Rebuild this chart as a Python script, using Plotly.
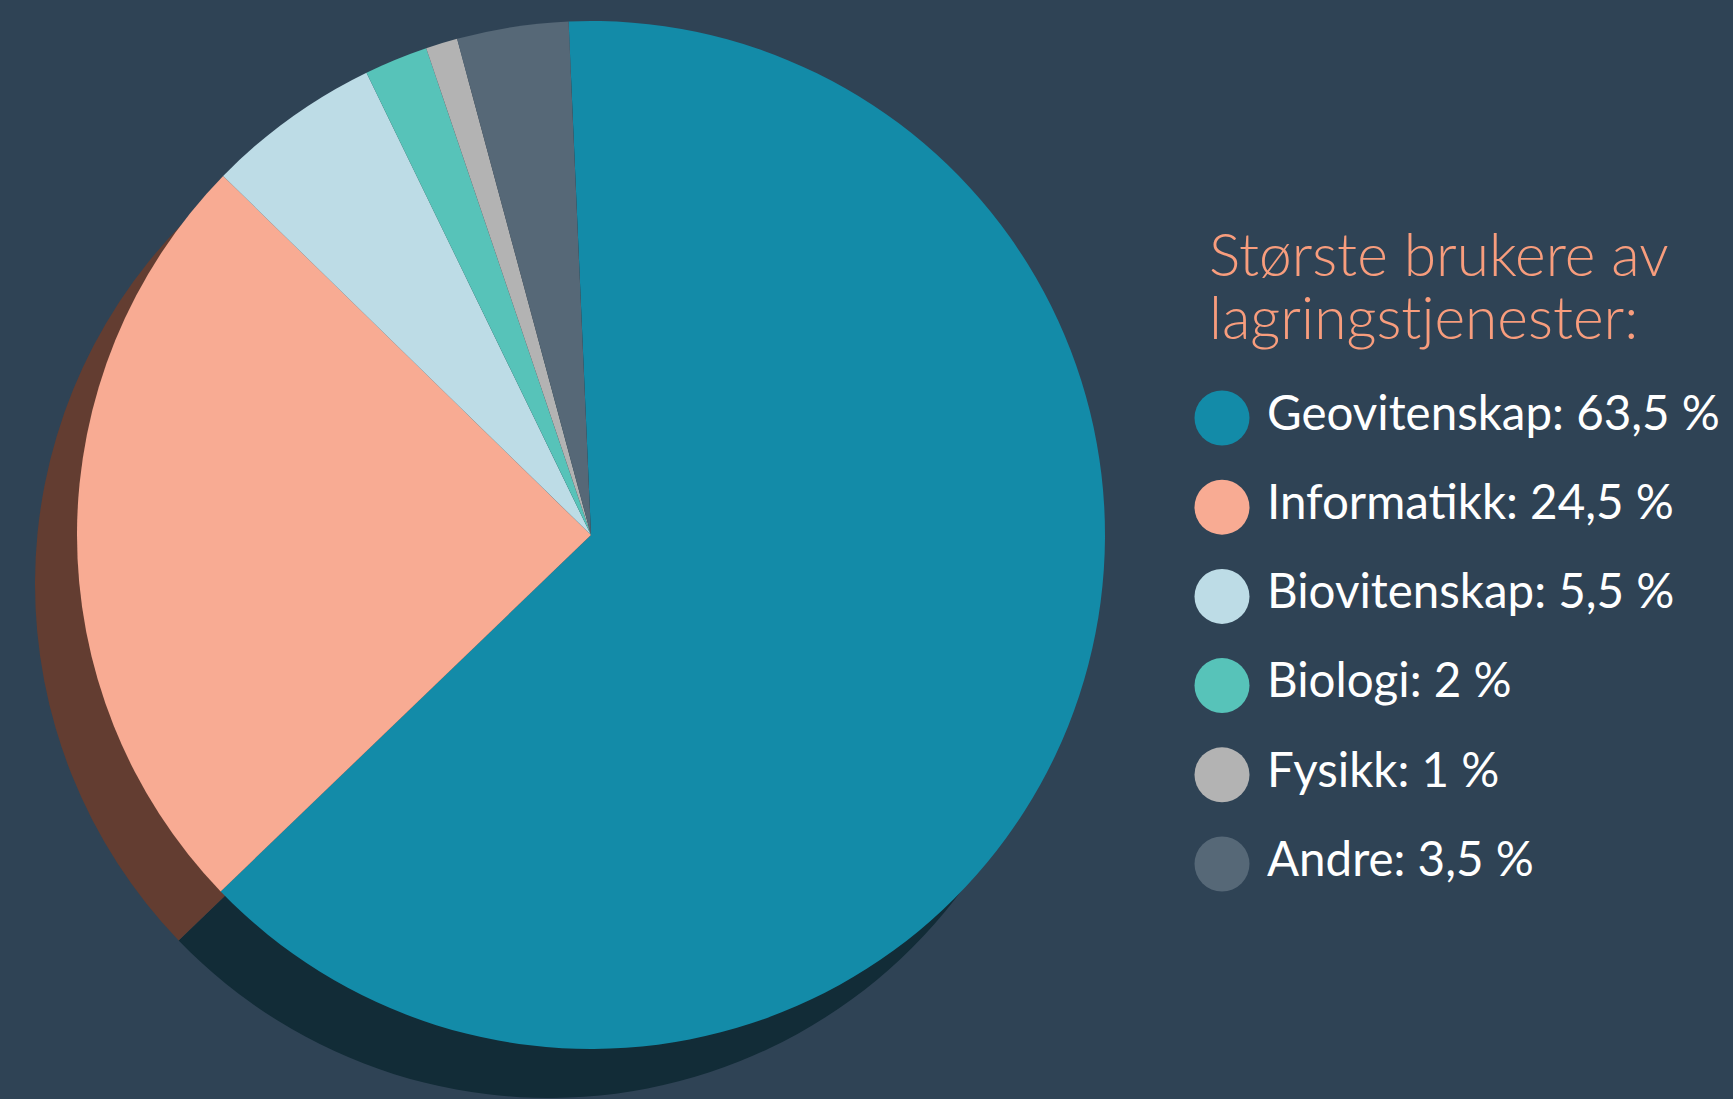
import plotly.graph_objects as go

# ---- data ----
categories = ["Geovitenskap", "Informatikk", "Biovitenskap", "Biologi", "Fysikk", "Andre"]
values = [63.5, 24.5, 5.5, 2, 1, 3.5]
colors = ["#138ba8", "#f8ab93", "#bddce6", "#57c3b9", "#b3b3b3", "#566877"]
shadow_colors = ["#122c37", "#633d31", "#3e4f58", "#24453f", "#3d4448", "#28333c"]
title_lines = ["Største brukere av", "lagringstjenester:"]

W, H = 1733, 1099
BG = "#2f4355"


def fmt(v):
    s = ("%g" % v).replace(".", ",")
    return s + " %"


labels = [f"{c}: {fmt(v)}" for c, v in zip(categories, values)]


def domain(cx, cy, r):
    y0 = max(0.0, 1 - (cy + r) / H)
    y1 = min(1.0, 1 - (cy - r) / H)
    return dict(x=[(cx - r) / W, (cx + r) / W], y=[y0, y1])


fig = go.Figure()

# shadow / depth pie
fig.add_trace(go.Pie(
    labels=categories, values=values, sort=False, direction="clockwise", rotation=-2.5,
    marker=dict(colors=shadow_colors, line=dict(width=0)),
    textinfo="none", hoverinfo="skip", showlegend=False,
    domain=domain(549, 584, 514),
))

# main pie
fig.add_trace(go.Pie(
    labels=categories, values=values, sort=False, direction="clockwise", rotation=-2.5,
    marker=dict(colors=colors, line=dict(width=0)),
    textinfo="none", hoverinfo="label+value", showlegend=False,
    domain=domain(591, 535, 514),
))

# custom legend: circles + labels on a hidden axis
idx = list(range(len(categories)))
fig.add_trace(go.Scatter(
    x=[0] * len(idx), y=idx, mode="markers",
    marker=dict(size=55, color=colors, line=dict(width=0)),
    hoverinfo="skip", showlegend=False,
))
fig.add_trace(go.Scatter(
    x=[45] * len(idx), y=idx, mode="text", text=labels,
    textposition="middle right",
    textfont=dict(family="Lato, 'Open Sans', sans-serif", size=47.5, color="#ffffff"),
    hoverinfo="skip", showlegend=False,
))

STEP = 89.2
fig.update_xaxes(visible=False, range=[-1222, W - 1222], domain=[0, 1], fixedrange=True)
fig.update_yaxes(visible=False, range=[(H - 418) / STEP, -418 / STEP], domain=[0, 1], fixedrange=True)

# title
for i, line in enumerate(title_lines):
    fig.add_annotation(
        text=line, xref="paper", yref="paper",
        x=1207 / W, y=1 - (254 + 62 * i) / H, xanchor="left", yanchor="middle",
        showarrow=False,
        font=dict(family="Lato, 'Open Sans', sans-serif", size=58.7, color="#f89d7d", weight=300),
    )

fig.update_layout(
    width=W, height=H, margin=dict(l=0, r=0, t=0, b=0),
    paper_bgcolor=BG, plot_bgcolor=BG,
    showlegend=False,
)

fig.write_html(
    "out.html",
    config={"displayModeBar": False},
    post_script="document.body.style.margin='0';document.body.style.overflow='hidden';"
                "document.body.style.background='" + BG + "';",
)
